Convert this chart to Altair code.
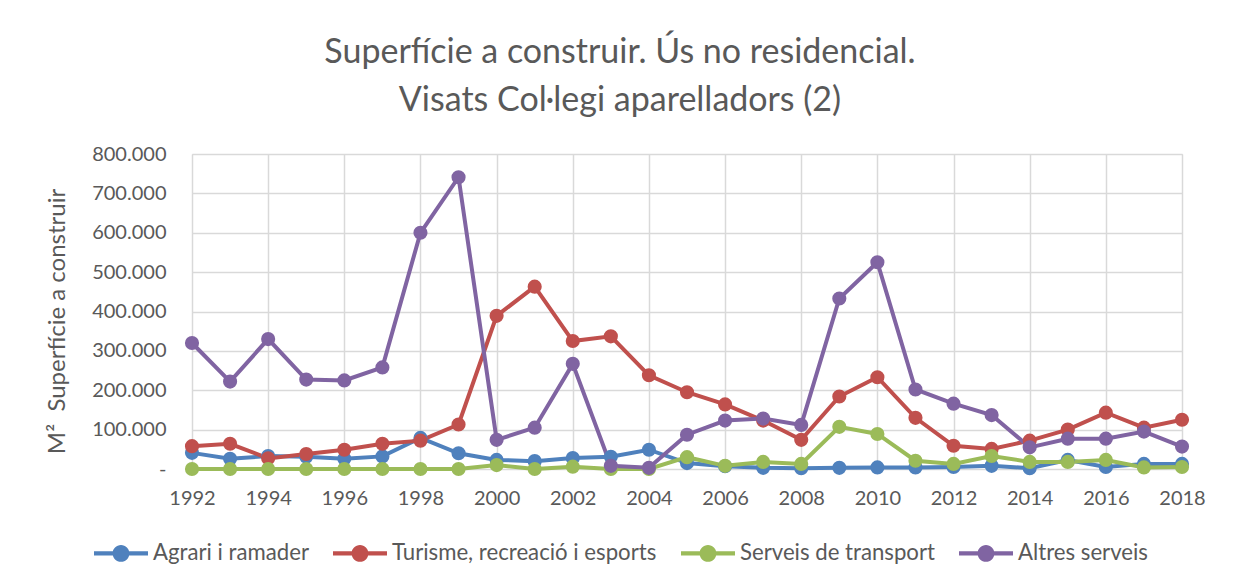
import altair as alt
import pandas as pd

years = list(range(1992, 2019))
series_names = ["Agrari i ramader", "Turisme, recreació i esports", "Serveis de transport", "Altres serveis"]
colors = ["#4F81BD", "#C0504D", "#9BBB59", "#8064A2"]

# values in thousands of m2
agrari = [41, 26, 33, 31, 26, 32, 79, 40, 23, 20, 28, 31, 49, 15, 7, 3, 2, 3, 4, 4, 5, 8, 2, 23, 5, 13, 13]
turisme = [58, 64, 27, 38, 49, 64, 72, 113, 389, 463, 325, 337, 238, 195, 164, 123, 74, 184, 233, 130, 59, 51, 72, 100, 143, 105, 125]
transport = [0, 0, 0, 0, 0, 0, 0, 0, 10, 0, 6, 0, 0, 30, 8, 18, 13, 107, 89, 21, 13, 33, 18, 18, 23, 4, 5]
altres = [320, 222, 330, 227, 225, 258, 600, 741, 74, 105, 267, 8, 3, 87, 123, 128, 112, 433, 525, 202, 166, 137, 55, 77, 77, 95, 57]

x_ticks = list(range(1992, 2019, 2))
y_ticks = [0, 100000, 200000, 300000, 400000, 500000, 600000, 700000, 800000]

rows = []
for name, vals in zip(series_names, [agrari, turisme, transport, altres]):
    for yr, v in zip(years, vals):
        rows.append({"year": yr, "value": v * 1000, "serie": name})
df = pd.DataFrame(rows)

FONT = "Lato"
TXT = "#595959"
GRID = "#D9D9D9"

legend_symbol = ("M-1,-0.08 L1,-0.08 L1,0.08 L-1,0.08 Z "
                 "M0.31,0 A0.31,0.31 0 1,1 -0.31,0 A0.31,0.31 0 1,1 0.31,0 Z")

color = alt.Color(
    "serie:N",
    scale=alt.Scale(domain=series_names, range=colors),
    sort=series_names,
    legend=alt.Legend(
        title=None,
        orient="none",
        legendX=-98,
        legendY=372,
        direction="horizontal",
        columns=4,
        symbolType=legend_symbol,
        symbolSize=2916,
        symbolStrokeWidth=0,
        labelFont=FONT,
        labelFontSize=22.2,
        labelColor=TXT,
        labelOffset=5,
        labelLimit=0,
        columnPadding=24,
    ),
)

x = alt.X(
    "year:Q",
    scale=alt.Scale(domain=[1992, 2018], nice=False, zero=False),
    axis=alt.Axis(
        values=x_ticks, format="d", title=None, ticks=False, domain=False,
        labelFont=FONT, labelFontSize=20, labelColor=TXT, labelPadding=19,
        labelFlush=False, labelOverlap=False,
        grid=True, gridColor=GRID, gridWidth=1.5,
    ),
)
y = alt.Y(
    "value:Q",
    scale=alt.Scale(domain=[0, 800000], nice=False),
    axis=alt.Axis(
        values=y_ticks,
        labelExpr="datum.value == 0 ? '-' : format(datum.value / 1000, '.3f')",
        title="M²\u00a0\u00a0Superfície a construir",
        titleFont=FONT, titleFontSize=24, titleFontWeight="normal", titleColor=TXT,
        titlePadding=22, titleY=167,
        ticks=False, domain=False,
        labelFont=FONT, labelFontSize=20, labelColor=TXT, labelPadding=26,
        labelFlush=False, labelOverlap=False,
        grid=True, gridColor=GRID, gridWidth=1.5,
    ),
)

lines = alt.Chart(df).mark_line(strokeWidth=4).encode(x=x, y=y, color=color, detail="serie:N")
points = alt.Chart(df).mark_circle(size=200, opacity=1).encode(x=x, y=y, color=color)

chart = (
    alt.layer(lines, points)
    .properties(
        width=990,
        height=315,
        autosize=alt.AutoSizeParams(type="none"),
        padding={"left": 184, "top": 146, "right": 43, "bottom": 109},
        title=alt.TitleParams(
            text=["Superfície a construir. Ús no residencial.", "Visats Col·legi aparelladors (2)"],
            font=FONT, fontSize=34, fontWeight="normal", color=TXT,
            lineHeight=48, anchor="middle", dx=-67, offset=26,
        ),
    )
    .configure_view(stroke=None)
    .configure(background="white")
)

chart.save("out.html", embed_options={"renderer": "svg", "actions": False})
